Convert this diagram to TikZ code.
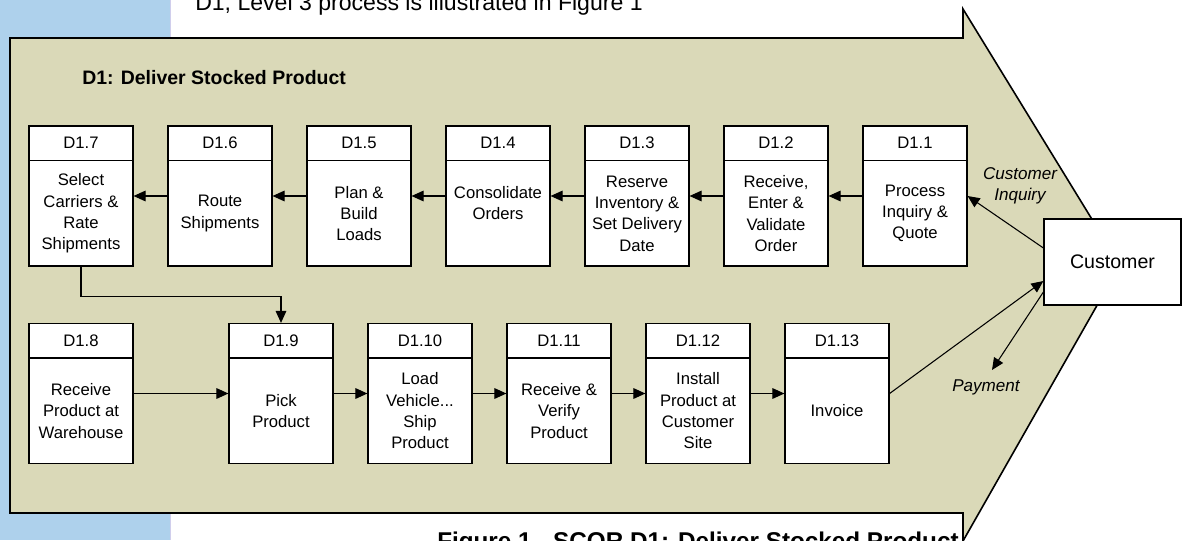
\documentclass[tikz,border=0pt]{standalone}
\usepackage{fontspec}
\setmainfont{Liberation Sans}
\usetikzlibrary{arrows.meta}
\definecolor{khaki}{RGB}{218,217,184}
\definecolor{sidebar}{RGB}{174,209,236}
\definecolor{seam}{RGB}{208,206,236}

\begin{document}
\begin{tikzpicture}[x=0.75pt,y=-0.75pt,
  proc/.style={draw,line width=0.9pt,fill=white,minimum width=78pt,minimum height=105pt,inner sep=0pt},
  txt/.style={align=center,font=\fontsize{12.5}{16}\selectfont},
  lbl/.style={align=center,font=\itshape\fontsize{12.8}{16}\selectfont},
  flow/.style={-{Triangle[length=9pt,width=8pt]},line width=0.8pt}]
\useasboundingbox (0,0) rectangle (1183,540);
\fill[sidebar] (0,0) rectangle (170,540);
\draw[seam,line width=0.75pt] (170.5,0) -- (170.5,540);
\node[anchor=base west,inner sep=0pt,font=\fontsize{17.3}{20}\selectfont] (intro) at (195,10) {D1, Level 3 process is illustrated in Figure 1};
\node[anchor=base west,inner sep=0pt,font=\bfseries\fontsize{18.2}{22}\selectfont] (caption) at (437,549) {Figure 1 - SCOR D1: Deliver Stocked Product};
\draw[fill=khaki,line width=1.2pt] (10,38) -- (963,38) -- (963,9) -- (1120,265) -- (963,541) -- (963,513) -- (10,513) -- cycle;
\node[anchor=base west,inner sep=0pt,font=\bfseries\fontsize{14.6}{17}\selectfont] (title) at (82,84) {D1: Deliver Stocked Product};

\foreach \n/\x/\t in {1/915/{Process\\Inquiry \&\\Quote}, 2/776/{Receive,\\Enter \&\\Validate\\Order}, 3/637/{Reserve\\Inventory \&\\Set Delivery\\Date}, 4/498/{Consolidate\\Orders\\\mbox{}}, 5/359/{Plan \&\\Build\\Loads}, 6/220/{Route\\Shipments}, 7/81/{Select\\Carriers \&\\Rate\\Shipments}}{
\node[proc] (d\n) at (\x,196) {};
\draw[line width=0.9pt] (d\n.north west) ++(0,35) -- ++(104,0);
\node[txt] at ([yshift=-13.1pt]d\n.north) {D1.\n};
\node[txt] at ([yshift=-13.1pt]d\n.center) {\t};
}
\foreach \n/\x/\t in {8/81/{Receive\\Product at\\Warehouse}, 9/281/{Pick\\Product}, 10/420/{Load\\Vehicle...\\Ship\\Product}, 11/559/{Receive \&\\Verify\\Product}, 12/698/{Install\\Product at\\Customer\\Site}, 13/837/{Invoice}}{
\node[proc] (d\n) at (\x,393.5) {};
\draw[line width=0.9pt] (d\n.north west) ++(0,35) -- ++(104,0);
\node[txt] at ([yshift=-13.1pt]d\n.north) {D1.\n};
\node[txt] at ([yshift=-13.1pt]d\n.center) {\t};
}
\foreach \a/\b in {1/2,2/3,3/4,4/5,5/6,6/7,8/9,9/10,10/11,11/12,12/13}{
\draw[flow] (d\a) -- (d\b);
}
\draw[flow] (d7.south) -- ++(0,30) -| (d9.north);

\node[draw,line width=0.9pt,fill=white,minimum width=102.75pt,minimum height=64.5pt,font=\fontsize{14.7}{17}\selectfont] (cust) at (1112.5,262) {Customer};
\coordinate (pay) at (992,370);
\draw[flow] ([yshift=10.5pt]cust.west) -- (d1.east);
\draw[flow] (d13.east) -- ([yshift=-14.25pt]cust.west);
\draw[flow] ([yshift=-22.5pt]cust.west) -- (pay);
\node[lbl] (inquiry) at (1020,186) {Customer\\Inquiry};
\node[lbl] (payment) at (986,387) {Payment};
\end{tikzpicture}
\end{document}
